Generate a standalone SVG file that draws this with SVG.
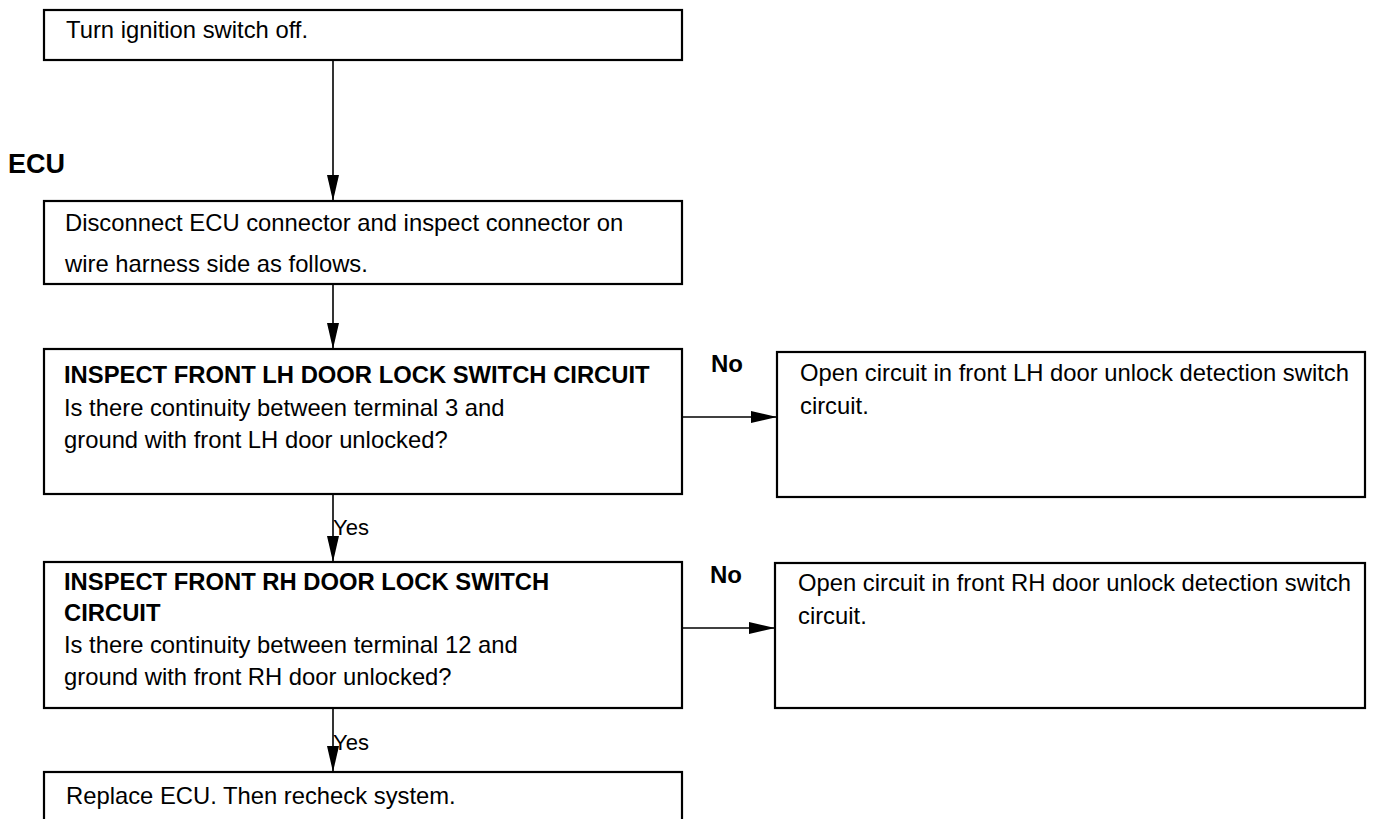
<svg xmlns="http://www.w3.org/2000/svg" width="1382" height="819" viewBox="0 0 1382 819">
<defs>
<style>
.box{fill:#fff;stroke:#000;stroke-width:2.2}
.t{font-family:"Liberation Sans",Arial,sans-serif;font-size:23.8px;fill:#000}
.b{font-family:"Liberation Sans",Arial,sans-serif;font-size:23.8px;font-weight:bold;fill:#000}
.lbl{font-family:"Liberation Sans",Arial,sans-serif;font-size:24px;font-weight:bold;fill:#000}
.yes{font-family:"Liberation Sans",Arial,sans-serif;font-size:22px;fill:#000}
.c{stroke:#000;stroke-width:1.6;fill:none}
</style>
<marker id="ah" markerUnits="userSpaceOnUse" markerWidth="26" markerHeight="12" refX="26" refY="6" orient="auto">
<path d="M0,0 L26,6 L0,12 z" fill="#000"/>
</marker>
</defs>
<rect width="1382" height="819" fill="#fff"/>
<text class="lbl" x="8" y="173" style="font-size:27px">ECU</text>
<g id="n1">
<rect class="box" x="44" y="10" width="638" height="50"/>
<text class="t" x="66" y="38">Turn ignition switch off.</text>
</g>
<g id="n2">
<rect class="box" x="44" y="201" width="638" height="83"/>
<text class="t" x="65" y="231">Disconnect ECU connector and inspect connector on</text>
<text class="t" x="65" y="272">wire harness side as follows.</text>
</g>
<g id="n3">
<rect class="box" x="44" y="349" width="638" height="145"/>
<text class="b" x="64" y="383">INSPECT FRONT LH DOOR LOCK SWITCH CIRCUIT</text>
<text class="t" x="64" y="416">Is there continuity between terminal 3 and</text>
<text class="t" x="64" y="448">ground with front LH door unlocked?</text>
</g>
<g id="n4">
<rect class="box" x="777" y="352" width="588" height="145"/>
<text class="t" x="800" y="381">Open circuit in front LH door unlock detection switch</text>
<text class="t" x="800" y="414">circuit.</text>
</g>
<g id="n5">
<rect class="box" x="44" y="562" width="638" height="146"/>
<text class="b" x="64" y="590">INSPECT FRONT RH DOOR LOCK SWITCH</text>
<text class="b" x="64" y="621">CIRCUIT</text>
<text class="t" x="64" y="653">Is there continuity between terminal 12 and</text>
<text class="t" x="64" y="685">ground with front RH door unlocked?</text>
</g>
<g id="n6">
<rect class="box" x="775" y="563" width="590" height="145"/>
<text class="t" x="798" y="591">Open circuit in front RH door unlock detection switch</text>
<text class="t" x="798" y="624">circuit.</text>
</g>
<g id="n7">
<rect class="box" x="44" y="772" width="638" height="60"/>
<text class="t" x="66" y="804">Replace ECU. Then recheck system.</text>
</g>
<g id="connectors">
<line class="c" x1="333" y1="60" x2="333" y2="201" marker-end="url(#ah)"/>
<line class="c" x1="333" y1="284" x2="333" y2="349" marker-end="url(#ah)"/>
<line class="c" x1="333" y1="494" x2="333" y2="562" marker-end="url(#ah)"/>
<line class="c" x1="333" y1="708" x2="333" y2="772" marker-end="url(#ah)"/>
<line class="c" x1="682" y1="417" x2="777" y2="417" marker-end="url(#ah)"/>
<line class="c" x1="682" y1="628" x2="775" y2="628" marker-end="url(#ah)"/>
<text class="yes" x="333" y="535">Yes</text>
<text class="yes" x="333" y="750">Yes</text>
<text class="lbl" x="711" y="372">No</text>
<text class="lbl" x="710" y="583">No</text>
</g>
</svg>
